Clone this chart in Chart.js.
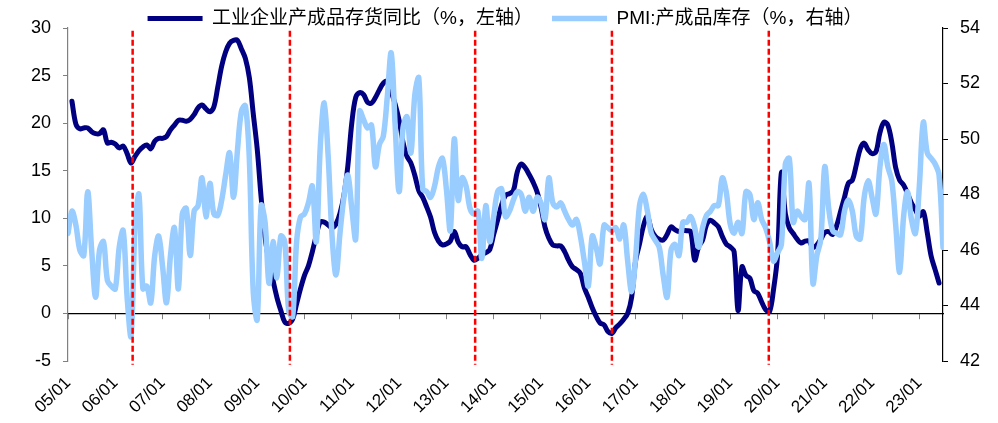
<!DOCTYPE html>
<html>
<head>
<meta charset="utf-8">
<script src="https://cdn.jsdelivr.net/npm/chart.js@4.4.1/dist/chart.umd.min.js"></script>
<style>
  html, body { margin: 0; padding: 0; background: #ffffff; }
</style>
</head>
<body>
<canvas id="chartCycle" width="998" height="423"></canvas>
<script>
// monthly, starting 2005/01
var yearLabels = ["05/01", "06/01", "07/01", "08/01", "09/01", "10/01", "11/01", "12/01", "13/01", "14/01",
    "15/01", "16/01", "17/01", "18/01", "19/01", "20/01", "21/01", "22/01", "23/01"];

// 工业企业产成品存货同比 (%), left axis
var inventoryYoY = [
    null, 22.3, 19.9, 19.4, 19.5, 19.5, 19.1, 18.9, 18.9, 19.3, 17.9, 18.0,
    17.8, 17.4, 17.6, 16.8, 15.8, 16.5, 17.1, 17.5, 17.7, 17.3, 18.1, 18.4,
    18.4, 18.6, 19.3, 19.8, 20.3, 20.3, 20.2, 20.4, 20.9, 21.6, 21.9, 21.5,
    21.2, 21.7, 23.8, 26.0, 27.5, 28.4, 28.7, 28.7, 27.8, 26.8, 24.8, 21.0,
    17.3, 12.2, 8.0, 5.4, 3.5, 1.7, 0.3, -0.9, -1.05, -0.6, 1.0, 2.6,
    4.0, 5.0, 6.5, 8.2, 9.6, 9.6, 9.3, 9.0, 9.4, 10.5, 12.4, 15.5,
    20.0, 22.7, 23.2, 23.0, 22.2, 22.1, 22.7, 23.5, 24.2, 24.4, 23.3, 22.0,
    20.3, 18.0, 16.5, 15.8, 14.5, 12.9, 12.2, 11.2, 10.1, 8.5, 7.6, 7.2,
    7.3, 7.6, 8.6, 7.5, 7.0, 7.0, 6.2, 5.6, 5.8, 6.2, 6.4, 6.7,
    8.3, 9.8, 11.4, 12.4, 12.6, 12.9, 14.9, 15.7, 15.3, 14.6, 13.8, 12.8,
    11.2, 9.1, 7.9, 7.2, 7.1, 7.1, 6.5, 5.6, 4.9, 4.6, 4.2, 2.7,
    1.7, 0.6, -0.3, -1.0, -1.2, -1.9, -2.1, -1.5, -1.1, -0.6, 0.0, 1.7,
    5.5, 7.3, 9.2, 10.2, 8.8, 8.1, 7.8, 7.7, 8.3, 9.1, 8.8, 8.6,
    8.7, 8.7, 8.6, 5.6, 7.0, 7.7, 9.3, 9.8, 9.5, 9.1, 8.1, 7.3,
    7.0, 6.5, 0.3, 4.9, 4.0, 3.7, 2.4, 2.1, 1.2, 0.4, 0.2, 2.5,
    6.0, 14.8, 10.5, 9.0, 8.4, 7.8, 7.4, 7.6, 7.6, 6.9, 7.2, 7.8,
    8.5, 8.6, 8.3, 9.2, 10.7, 12.2, 13.7, 14.0, 15.6, 17.3, 17.9, 17.2,
    16.8, 17.0, 19.0, 20.1, 19.8, 18.0, 15.3, 14.0, 13.5, 12.6, 11.6, 10.9,
    10.2, 10.7, 8.5, 6.0, 4.6, 3.2
];

// PMI:产成品库存 (%), right axis
var pmiInventory = [
    46.6, 47.4, 46.9, 46.0, 45.8, 48.1, 46.0, 44.3, 46.0, 46.3, 44.9, 44.7,
    44.6, 46.1, 46.7, 44.3, 42.9, 46.8, 48.0, 44.6, 44.7, 44.1, 45.8, 46.5,
    45.4, 44.1, 45.8, 46.8, 44.6, 47.3, 47.5, 45.8, 47.4, 47.6, 48.6, 47.2,
    48.4, 47.3, 47.25, 47.8, 48.7, 49.5, 47.9, 49.6, 51.0, 51.2, 49.3, 44.5,
    43.5, 47.6, 47.0, 44.8, 46.3, 45.0, 46.5, 46.3, 43.8, 43.6, 46.3, 47.2,
    47.3, 47.7, 48.3, 46.3, 49.7, 51.3, 49.4, 46.5, 45.1, 46.6, 47.9, 48.7,
    47.5, 46.4, 51.0, 50.7, 50.4, 50.5, 49.0, 49.8, 50.1, 51.5, 53.1, 50.5,
    48.1, 50.4, 50.8, 49.5, 51.6, 52.2, 48.2, 48.1, 47.9, 48.3, 49.0, 49.3,
    48.2, 46.7, 50.0, 47.8, 48.6, 48.3, 47.5, 47.3, 47.4, 45.7, 47.6, 46.3,
    47.2, 48.1, 48.2, 47.2, 47.4, 47.8, 48.1, 48.0, 47.4, 47.9, 47.4, 47.9,
    47.7, 47.1, 48.6, 47.7, 47.55, 47.7, 47.4, 47.1, 46.9, 47.1, 46.5, 45.6,
    44.7, 46.5, 46.1, 45.5, 46.9, 46.8, 46.7, 46.8, 46.4, 46.9, 45.6, 44.5,
    45.7, 47.6, 48.0, 47.4, 46.6, 46.35, 46.1, 45.1, 44.3, 46.0, 46.2, 45.8,
    47.0, 47.0, 47.2, 46.8, 46.1, 46.8, 47.25, 47.4, 47.6, 47.6, 48.6, 48.1,
    46.95, 46.6, 47.0, 46.6, 48.1, 48.0, 47.1, 47.7, 47.1, 46.8, 46.3, 45.6,
    45.9, 46.2, 49.1, 49.3, 47.0, 47.4, 47.2, 47.1, 48.4, 44.8, 45.8, 46.4,
    49.0, 47.5, 46.7, 46.6, 46.55, 47.4, 47.8, 47.4, 46.5, 46.4, 47.9, 48.5,
    47.9, 47.3, 49.0, 49.8, 49.0, 48.5, 46.9, 45.2, 47.2, 48.1, 47.1, 46.6,
    48.3, 50.6, 49.5, 49.3, 49.1, 48.7, 46.1
];

// red dashed turning points (month index from 2005/01)
var cycleTurns = [16.4, 56.3, 103.3, 138, 177.8];
var turnTop = 29.7;
var turnBottom = -5.4;

var tickFont = { family: '"Liberation Sans", Arial, sans-serif', size: 18 };
var legendFont = { family: '"Liberation Sans", "Noto Sans CJK SC", sans-serif', size: 19 };

function toPoints(values) {
    var pts = [];
    for (var i = 0; i < values.length; i++) {
        if (values[i] !== null) pts.push({ x: i, y: values[i] });
    }
    return pts;
}

function getDatasets() {
    var list = [
        {
            label: '工业企业产成品存货同比（%，左轴）',
            data: toPoints(inventoryYoY),
            yAxisID: 'y',
            borderColor: '#000080',
            backgroundColor: '#000080',
            borderWidth: 5,
            borderCapStyle: 'round',
            borderJoinStyle: 'round',
            pointRadius: 0,
            tension: 0.35,
            order: 2
        },
        {
            label: 'PMI:产成品库存（%，右轴）',
            data: toPoints(pmiInventory),
            yAxisID: 'y1',
            borderColor: '#99ccff',
            backgroundColor: '#99ccff',
            borderWidth: 5.5,
            borderCapStyle: 'round',
            borderJoinStyle: 'round',
            pointRadius: 0,
            tension: 0.35,
            order: 1
        }
    ];
    for (var i = 0; i < cycleTurns.length; i++) {
        list.push({
            label: 'turn' + i,
            data: [{ x: cycleTurns[i], y: turnTop }, { x: cycleTurns[i], y: turnBottom }],
            yAxisID: 'y',
            borderColor: '#ff0000',
            borderWidth: 2.5,
            borderDash: [6, 3],
            pointRadius: 0,
            clip: false,
            order: 0
        });
    }
    return list;
}

// legend sits closer to the plot than Chart.js allows
var legendNudge = {
    id: 'legendNudge',
    afterLayout: function (chart) {
        var lg = chart.legend;
        var dy = 18.5 - (lg.top + lg.options.labels.padding + legendFont.size / 2);
        lg.top += dy;
        lg.bottom = lg.top + 45;
        lg.left += 6;
        lg.right += 6;
    }
};

function drawchart() {
    new Chart("chartCycle", {
        type: "line",
        data: { datasets: getDatasets() },
        plugins: [legendNudge],
        options: {
            responsive: false,
            animation: false,
            devicePixelRatio: 1,
            layout: { padding: 0 },
            plugins: {
                tooltip: { enabled: false },
                legend: {
                    display: true,
                    position: 'top',
                    maxHeight: 28,
                    labels: {
                        usePointStyle: true,
                        pointStyle: 'line',
                        pointStyleWidth: 55,
                        padding: 19,
                        color: '#000000',
                        font: legendFont,
                        filter: function (item) { return item.datasetIndex < 2; },
                        sort: function (a, b) { return a.datasetIndex - b.datasetIndex; }
                    }
                }
            },
            scales: {
                x: {
                    type: 'linear',
                    position: 'bottom',
                    min: 0,
                    max: 222,
                    grid: { display: false },
                    border: { display: false },
                    ticks: {
                        stepSize: 12,
                        autoSkip: false,
                        includeBounds: false,
                        minRotation: 45,
                        maxRotation: 45,
                        padding: 4,
                        color: '#000000',
                        font: { family: tickFont.family, size: 17 },
                        callback: function (v) { return yearLabels[v / 12]; }
                    },
                    afterFit: function (s) { s.height = 62; }
                },
                xZero: {
                    type: 'linear',
                    axis: 'x',
                    position: { y: 0 },
                    min: 0,
                    max: 222,
                    border: { display: true, color: '#000000', width: 1.2 },
                    grid: { display: true, drawOnChartArea: false, drawTicks: true, tickLength: 5, color: '#808080' },
                    ticks: { stepSize: 12, includeBounds: false, display: false }
                },
                y: {
                    position: 'left',
                    min: -5,
                    max: 30,
                    border: { display: true, color: '#808080', width: 1.2 },
                    grid: { display: true, drawOnChartArea: false, tickLength: 5, color: '#808080' },
                    ticks: { stepSize: 5, padding: 12, color: '#000000', font: tickFont },
                    afterFit: function (s) { s.width = 68; }
                },
                y1: {
                    position: 'right',
                    min: 42,
                    max: 54,
                    border: { display: true, color: '#000000', width: 1.2 },
                    grid: { display: true, drawOnChartArea: false, tickLength: 5, color: '#000000' },
                    ticks: { stepSize: 2, padding: 12, color: '#000000', font: tickFont },
                    afterFit: function (s) { s.width = 55; }
                }
            }
        }
    });
}

drawchart();
</script>
</body>
</html>
